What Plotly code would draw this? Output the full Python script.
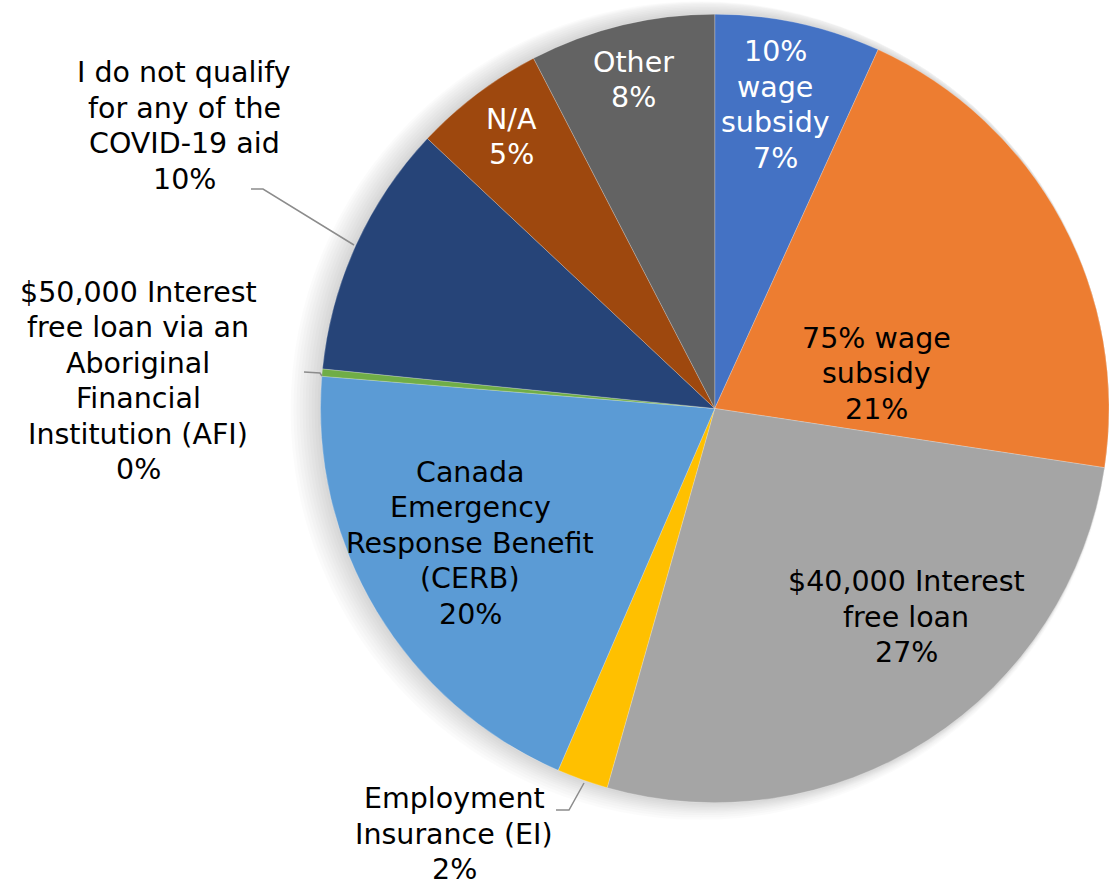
import plotly.graph_objects as go

W, H = 1109, 885

# ---- data ----
categories = [
    "10% wage subsidy",
    "75% wage subsidy",
    "$40,000 Interest free loan",
    "Employment Insurance (EI)",
    "Canada Emergency Response Benefit (CERB)",
    "$50,000 Interest free loan via an Aboriginal Financial Institution (AFI)",
    "I do not qualify for any of the COVID-19 aid",
    "N/A",
    "Other",
]
display_lines = [
    ["10%", "wage", "subsidy"],
    ["75% wage", "subsidy"],
    ["$40,000 Interest", "free loan"],
    ["Employment", "Insurance (EI)"],
    ["Canada", "Emergency", "Response Benefit", "(CERB)"],
    ["$50,000 Interest", "free loan via an", "Aboriginal", "Financial",
     "Institution (AFI)"],
    ["I do not qualify", "for any of the", "COVID-19 aid"],
    ["N/A"],
    ["Other"],
]
values = [6.8, 20.6, 27.0, 2.1, 19.8, 0.3, 10.4, 5.4, 7.6]
colors = ["#4472C4", "#ED7D31", "#A5A5A5", "#FFC000", "#5B9BD5",
          "#70AD47", "#264478", "#9E480E", "#636363"]
text_colors = ["white", "black", "black", "black", "black",
               "black", "black", "white", "white"]

# label block centre positions in pixels (layout)
label_pos = [(775, 105), (876, 374), (906, 617), (454, 834), (470, 543),
             (138, 381), (184, 126), (511, 137), (633, 80)]
LINE_H = 35.5
FONT_SIZE = 28.5


def fx(x):
    return x / W


def fy(y):
    return 1 - y / H


fig = go.Figure()

# soft shadow behind the pie
main_x = [0.289, 1.0]
main_y = [0.089, 0.988]
n_sh = 10
for k in range(n_sh, 0, -1):
    d = k * 1.5
    fig.add_trace(go.Pie(
        values=[1], labels=["shadow"], sort=False,
        domain=dict(x=[max(0, main_x[0] - 2 * d / W), 1.0],
                    y=[max(0, main_y[0] - d / H), min(1, main_y[1] + d / H)]),
        marker=dict(colors=["rgba(0,0,0,0.016)"], line=dict(width=0)),
        textinfo="none", hoverinfo="skip", showlegend=False,
    ))

fig.add_trace(go.Pie(
    labels=categories, values=values, sort=False, direction="clockwise",
    rotation=0,
    domain=dict(x=main_x, y=main_y),
    marker=dict(colors=colors, line=dict(width=0.5, color="rgba(255,255,255,0.45)")),
    textinfo="none", showlegend=False,
))

total = sum(values)
annotations = []
for lines, v, c, (x, y) in zip(display_lines, values, text_colors, label_pos):
    pct = round(v / total * 100)
    all_lines = lines + [f"{pct}%"]
    n = len(all_lines)
    for i, ln in enumerate(all_lines):
        yy = y + (i - (n - 1) / 2) * LINE_H
        annotations.append(dict(
            x=fx(x), y=fy(yy), xref="paper", yref="paper",
            text=ln, showarrow=False,
            xanchor="center", yanchor="middle", align="center",
            font=dict(family="DejaVu Sans", size=FONT_SIZE, color=c),
        ))

leaders = [
    [(251, 189), (263, 189), (354, 245)],
    [(304, 372), (320, 373), (322, 376)],
    [(556, 810), (569, 810), (584, 783)],
]
shapes = []
for pts in leaders:
    path = "M " + " L ".join(f"{fx(x):.5f},{fy(y):.5f}" for x, y in pts)
    shapes.append(dict(type="path", path=path, xref="paper", yref="paper",
                       line=dict(color="#8C8C8C", width=1.5)))

fig.update_layout(
    width=W, height=H,
    margin=dict(l=0, r=0, t=0, b=0),
    paper_bgcolor="white", plot_bgcolor="white",
    annotations=annotations, shapes=shapes,
    font=dict(family="DejaVu Sans"),
)

fig.write_html("out.html",
               config={"displayModeBar": False},
               post_script="document.body.style.margin='0px';"
                           "document.body.style.overflow='hidden';")
